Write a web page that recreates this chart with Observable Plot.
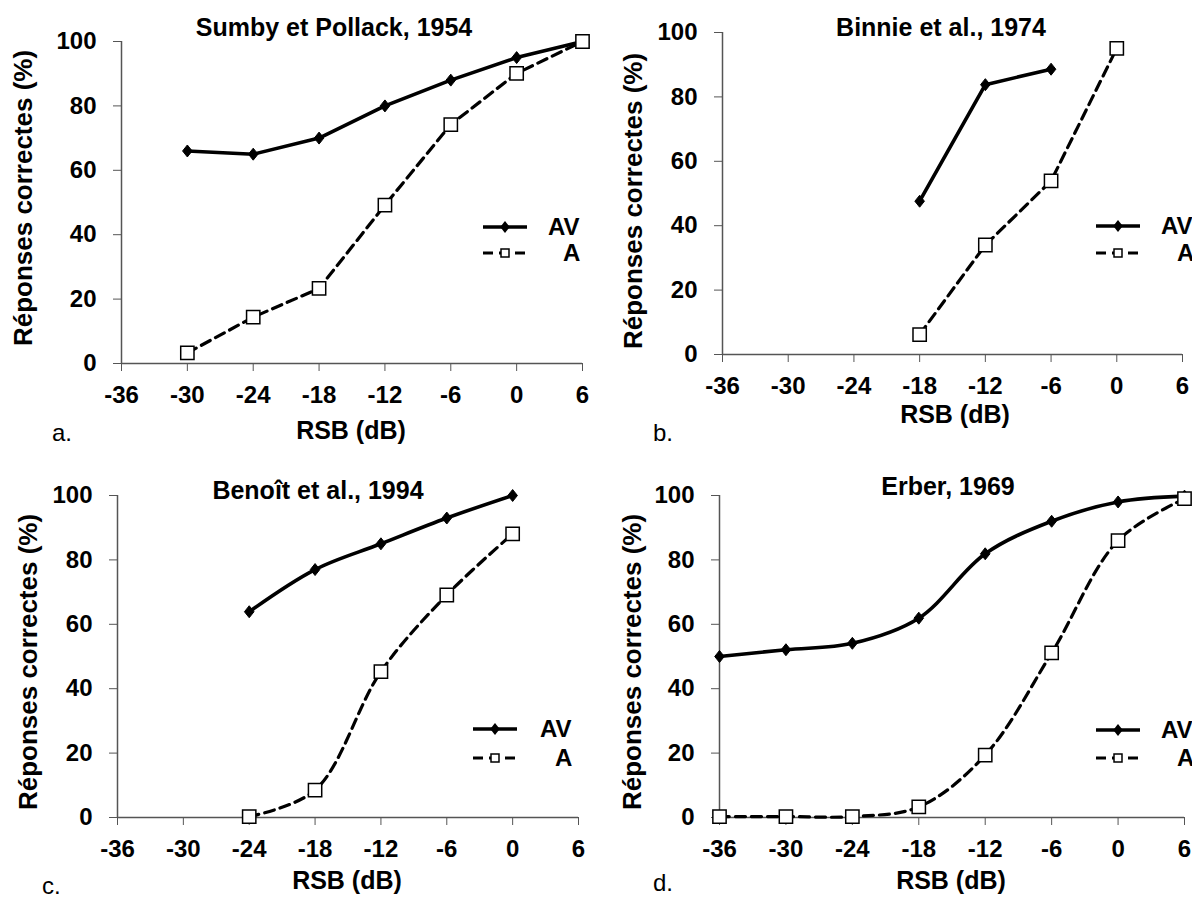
<!DOCTYPE html>
<html>
<head>
<meta charset="utf-8">
<script src="https://cdn.jsdelivr.net/npm/d3@7"></script>
<script src="https://cdn.jsdelivr.net/npm/@observablehq/plot@0.6"></script>
<style>
  html, body { margin: 0; padding: 0; background: #fff; }
  #root { position: relative; width: 1192px; height: 899px; overflow: hidden; font-family: "Liberation Sans", Arial, sans-serif; }
  .panel { position: absolute; }
  #overlay { position: absolute; left: 0; top: 0; pointer-events: none; }
</style>
</head>
<body>
<div id="root"></div>
<script>
// ---- data ----
const xTicks = [-36, -30, -24, -18, -12, -6, 0, 6];
const yTicks = [0, 20, 40, 60, 80, 100];
const seriesNames = ["AV", "A"];

const titles = ["Sumby et Pollack, 1954", "Binnie et al., 1974", "Benoît et al., 1994", "Erber, 1969"];
const panelLetters = ["a.", "b.", "c.", "d."];
const xLabel = "RSB (dB)";
const yLabel = "Réponses correctes (%)";

const sumbyX  = [-30, -24, -18, -12, -6, 0, 6];
const sumbyAV = [66, 65, 70, 80, 88, 95, 100];
const sumbyA  = [3.3, 14.4, 23.3, 49.2, 74.2, 90.1, 100];

const binnieAVX = [-18, -12, -6];
const binnieAV  = [47.6, 83.8, 88.6];
const binnieAX  = [-18, -12, -6, 0];
const binnieA   = [6.2, 34, 53.9, 95.1];

const benoitX  = [-24, -18, -12, -6, 0];
const benoitAV = [63.9, 77, 85, 93, 100];
const benoitA  = [0.3, 8.5, 45.3, 69.1, 88.1];

const erberX  = [-36, -30, -24, -18, -12, -6, 0, 6];
const erberAV = [50, 52.1, 54.1, 61.9, 81.9, 92, 98, 99.8];
const erberA  = [0.3, 0.3, 0.3, 3.3, 19.4, 51.1, 86, 99];

const toRows = (xs, ys) => xs.map((x, i) => ({x, y: ys[i]}));

// marker shape: slightly tall diamond (Excel-like)
const excelDiamond = {
  draw(ctx, size) {
    const h = Math.sqrt(size) * 0.75, w = h * 0.8;
    ctx.moveTo(0, -h); ctx.lineTo(w, 0); ctx.lineTo(0, h); ctx.lineTo(-w, 0); ctx.closePath();
  }
};

// ---- layout (presentation only) ----
const W = 596, H = 450;
const panels = [
  {left: 0,   top: 0,   m: {l: 121, r: 14, t: 41, b: 87}, av: toRows(sumbyX, sumbyAV),     a: toRows(sumbyX, sumbyA),     curve: "linear",
   title: [334, 27], xl: [351, 430], yl: [23, 198], letter: [52, 433], leg: {l: 483, y1: 227, y2: 253, t1: 548, t2: 563}},
  {left: 596, top: 0,   m: {l: 126, r: 10, t: 32, b: 96}, av: toRows(binnieAVX, binnieAV), a: toRows(binnieAX, binnieA), curve: "linear",
   title: [941, 27], xl: [955, 414], yl: [633, 201], letter: [653, 433], leg: {l: 1096, y1: 226, y2: 253, t1: 1161, t2: 1177}},
  {left: 0,   top: 450, m: {l: 117, r: 18, t: 45, b: 83}, av: toRows(benoitX, benoitAV),   a: toRows(benoitX, benoitA),   curve: "catmull-rom",
   title: [318, 490], xl: [347, 880], yl: [28, 662], letter: [42, 886], leg: {l: 473, y1: 729, y2: 758, t1: 540, t2: 555}},
  {left: 596, top: 450, m: {l: 123, r: 8,  t: 45, b: 83}, av: toRows(erberX, erberAV),     a: toRows(erberX, erberA),     curve: "catmull-rom",
   title: [948, 486], xl: [951, 880], yl: [632, 662], letter: [653, 883], leg: {l: 1096, y1: 730, y2: 758, t1: 1161, t2: 1177}}
];

const root = document.getElementById("root");
const FONT = "'Liberation Sans', Arial, sans-serif";

panels.forEach(p => {
  const chart = Plot.plot({
    width: W, height: H,
    marginLeft: p.m.l, marginRight: p.m.r, marginTop: p.m.t, marginBottom: p.m.b,
    style: {fontFamily: FONT, fontSize: "24px", fontWeight: "bold", color: "#000", background: "transparent", overflow: "visible"},
    x: {domain: [-36, 6]},
    y: {domain: [0, 100]},
    marks: [
      Plot.axisX({ticks: xTicks, tickSize: 8, tickPadding: 14, label: null, stroke: "#555", fill: "#000", tickFormat: d => String(d)}),
      Plot.axisY({ticks: yTicks, tickSize: 8, tickPadding: 17, label: null, stroke: "#555", fill: "#000"}),
      Plot.ruleY([0], {stroke: "#555", strokeWidth: 1.5}),
      Plot.ruleX([-36], {stroke: "#555", strokeWidth: 1.5}),
      Plot.line(p.a, {x: "x", y: "y", stroke: "#000", strokeWidth: 3.2, strokeDasharray: "10,6", curve: p.curve}),
      Plot.line(p.av, {x: "x", y: "y", stroke: "#000", strokeWidth: 3.6, curve: p.curve}),
      Plot.dot(p.av, {x: "x", y: "y", symbol: excelDiamond, r: 4.5, fill: "#000", stroke: "#000", strokeWidth: 1}),
      Plot.dot(p.a, {x: "x", y: "y", symbol: "square", r: 7.5, fill: "#fff", stroke: "#000", strokeWidth: 1.5})
    ]
  });
  chart.classList.add("panel");
  chart.style.left = p.left + "px";
  chart.style.top = p.top + "px";
  root.appendChild(chart);
});

// ---- overlay: titles, axis titles, letters, legends ----
const svg = d3.select(root).append("svg")
  .attr("id", "overlay").attr("width", 1192).attr("height", 899)
  .style("font-family", FONT);

panels.forEach((p, i) => {
  svg.append("text").attr("x", p.title[0]).attr("y", p.title[1]).attr("dy", "0.35em")
    .attr("text-anchor", "middle").attr("font-size", 25).attr("font-weight", "bold").text(titles[i]);
  svg.append("text").attr("x", p.xl[0]).attr("y", p.xl[1]).attr("dy", "0.35em")
    .attr("text-anchor", "middle").attr("font-size", 25).attr("font-weight", "bold").text(xLabel);
  svg.append("text").attr("transform", `translate(${p.yl[0]},${p.yl[1]}) rotate(-90)`).attr("dy", "0.35em")
    .attr("text-anchor", "middle").attr("font-size", 26).attr("font-weight", "bold").text(yLabel);
  svg.append("text").attr("x", p.letter[0]).attr("y", p.letter[1]).attr("dy", "0.35em")
    .attr("font-size", 24).text(panelLetters[i]);

  const L = p.leg;
  // AV
  svg.append("line").attr("x1", L.l).attr("x2", L.l + 44).attr("y1", L.y1).attr("y2", L.y1)
    .attr("stroke", "#000").attr("stroke-width", 3.6);
  svg.append("path").attr("d", d3.symbol(excelDiamond, Math.PI * 20.25)())
    .attr("transform", `translate(${L.l + 22},${L.y1})`).attr("fill", "#000");
  svg.append("text").attr("x", L.t1).attr("y", L.y1).attr("dy", "0.35em")
    .attr("font-size", 24).attr("font-weight", "bold").text(seriesNames[0]);
  // A
  svg.append("line").attr("x1", L.l).attr("x2", L.l + 44).attr("y1", L.y2).attr("y2", L.y2)
    .attr("stroke", "#000").attr("stroke-width", 3.2).attr("stroke-dasharray", "10,6");
  svg.append("path").attr("d", d3.symbol(d3.symbolSquare, 64)())
    .attr("transform", `translate(${L.l + 22},${L.y2})`).attr("fill", "#fff").attr("stroke", "#000").attr("stroke-width", 1.5);
  svg.append("text").attr("x", L.t2).attr("y", L.y2).attr("dy", "0.35em")
    .attr("font-size", 24).attr("font-weight", "bold").text(seriesNames[1]);
});
</script>
</body>
</html>
